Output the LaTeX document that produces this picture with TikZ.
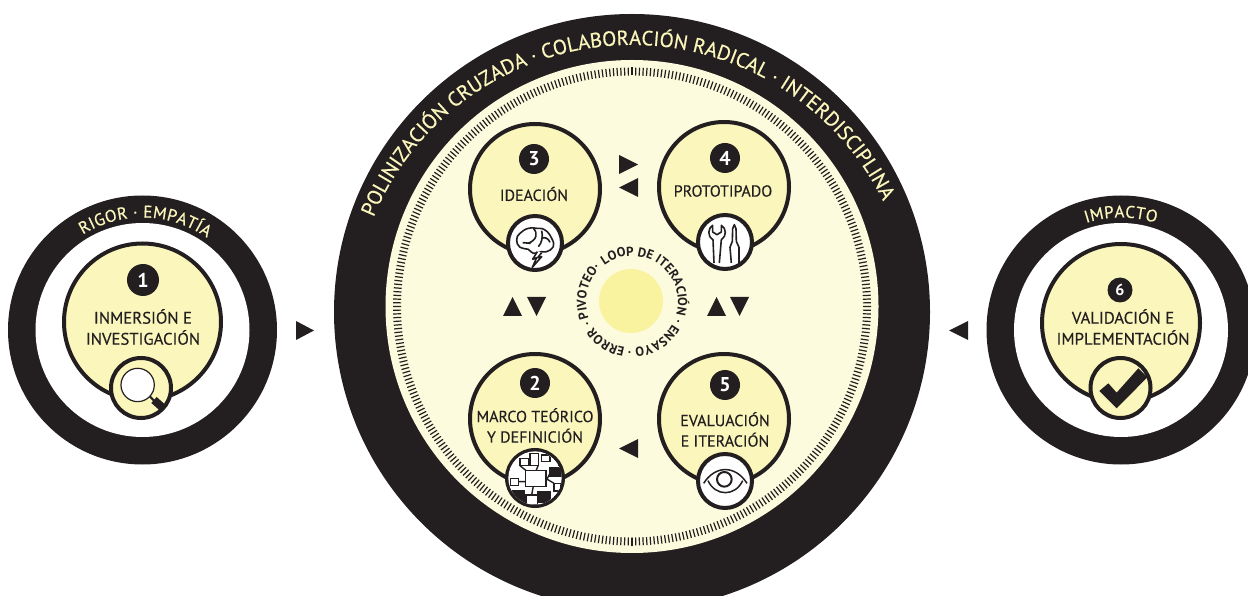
\documentclass[tikz,border=0pt]{standalone}
\usepackage{fontspec}
\setmainfont{PT Sans}
\newfontfamily\medfont[FakeBold=0.25]{PT Sans}
\newfontfamily\thickfont[FakeBold=0.45]{PT Sans}
\usepackage{xcolor}
\usetikzlibrary{decorations.text}
\definecolor{ink}{HTML}{231F20}
\definecolor{pale}{HTML}{FDFBDD}
\definecolor{butter}{HTML}{FBF6BB}
\definecolor{sun}{HTML}{F9F29E}
\newcommand{\bandfont}{\thickfont\fontsize{20.6}{20.6}\selectfont}
\newcommand{\sidefont}{\thickfont\fontsize{17}{17}\selectfont}
\newcommand{\corefont}{\fontsize{13}{13}\selectfont\bfseries}
\tikzset{
  stage/.style={circle,draw=ink,fill=butter,line width=4pt,inner sep=0pt},
  badge/.style={circle,fill=ink,text=white,inner sep=0pt,font=\fontsize{20}{20}\selectfont\bfseries},
  label/.style={align=center,text=ink,inner sep=0pt,font=\medfont\fontsize{16}{20.5}\selectfont},
  widelabel/.style={label,font=\medfont\fontsize{16.7}{21}\selectfont},
  icon/.style={circle,draw=ink,line width=4pt,inner sep=0pt},
  pen/.style={draw=ink,line width=1.6pt,line join=round}
}
\begin{document}
\begin{tikzpicture}[x=1pt,y=1pt]
    \useasboundingbox (0,0) rectangle (1248,595);
    \clip (0,0) rectangle (1248,595);
    \coordinate (hub) at (632,288.5);
    \coordinate (leftc) at (142.5,265);
    \coordinate (rightc) at (1121,265);
    \coordinate (corec) at (632,293);

    \node[circle,fill=ink,minimum size=596pt,inner sep=0pt] (mainband) at (632,283) {};
    \node[circle,fill=pale,minimum size=493pt,inner sep=0pt] (maindisc) at (hub) {};
    \foreach \i in {1,...,400}
      \draw[ink,line width=1.2pt] (hub) ++(\i*0.9:231) -- ++(\i*0.9:8);
    \draw[ink,line width=2.4pt] (hub) ++(-90:231) -- ++(-90:8);
    \path[decorate,decoration={text along path,text align={fit to path},
      text={|\color{butter}\bandfont|POLINIZACIÓN CRUZADA · COLABORACIÓN RADICAL · INTERDISCIPLINA}}]
      (632,270) ++(157.4:280) arc[start angle=157.4,end angle=26.6,radius=280];

    \node[circle,fill=ink,minimum size=269pt,inner sep=0pt] (leftband) at (leftc) {};
    \node[circle,fill=white,minimum size=214pt,inner sep=0pt] (lefthole) at (leftc) {};
    \path[decorate,decoration={text along path,text align={fit to path},
      text={|\color{butter}\sidefont|RIGOR · EMPATÍA}}]
      (leftc) ++(122:112.5) arc[start angle=122,end angle=55,radius=112.5];

    \node[circle,fill=ink,minimum size=269pt,inner sep=0pt] (rightband) at (rightc) {};
    \node[circle,fill=white,minimum size=214pt,inner sep=0pt] (righthole) at (rightc) {};
    \path[decorate,decoration={text along path,text align={fit to path},
      text={|\color{butter}\sidefont|IMPACTO}}]
      (rightc) ++(108:112.5) arc[start angle=108,end angle=72,radius=112.5];

    \node[stage,minimum size=157pt] (stage1) at (142.5,273) {};
    \node[stage,minimum size=130pt] (stage2) at (535,176) {};
    \node[stage,minimum size=130pt] (stage3) at (535,406) {};
    \node[stage,minimum size=130pt] (stage4) at (724,408) {};
    \node[stage,minimum size=130pt] (stage5) at (724,176) {};
    \node[stage,minimum size=158pt] (stage6) at (1121,272) {};

    \node[badge,minimum size=32pt] (num1) at (143,315) {1};
    \node[badge,minimum size=30pt] (num2) at (535,212) {2};
    \node[badge,minimum size=30pt] (num3) at (534,436) {3};
    \node[badge,minimum size=30pt] (num4) at (725,437) {4};
    \node[badge,minimum size=30pt] (num5) at (725,210) {5};
    \node[badge,minimum size=25pt,font=\fontsize{16}{16}\selectfont\bfseries] (num6) at (1120,305) {6};

    \node[widelabel] (text1) at (143,268) {INMERSIÓN E\\INVESTIGACIÓN};
    \node[label] (text2) at (535,169.5) {MARCO TEÓRICO\\Y DEFINICIÓN};
    \node[label] (text3) at (534,401) {IDEACIÓN};
    \node[label] (text4) at (723,404) {PROTOTIPADO};
    \node[label] (text5) at (725,165.5) {EVALUACIÓN\\E ITERACIÓN};
    \node[widelabel] (text6) at (1123,268) {VALIDACIÓN E\\IMPLEMENTACIÓN};

    \node[icon,fill=butter,minimum size=60pt] (icon1) at (141,207) {};
    \node[icon,fill=ink,minimum size=56pt] (icon2) at (535,117) {};
    \node[icon,fill=white,minimum size=54pt] (icon3) at (535,352) {};
    \node[icon,fill=white,minimum size=54pt] (icon4) at (725,353) {};
    \node[icon,fill=white,minimum size=54pt] (icon5) at (725,114) {};
    \node[icon,fill=butter,minimum size=60pt] (icon6) at (1120.5,207) {};

    \begin{scope}[shift={(0,405)},x=0.3333pt,y=-0.3333pt]
      \draw[ink,line width=1.2pt,fill=white] (413,585) circle (50);
      \draw[ink,line width=2pt] (450,620) -- (465,635);
      \draw[ink,line width=8pt] (462,630) -- (490,655);
    \end{scope}

    \begin{scope}[shift={(500,150)},x=0.3333pt,y=-0.3333pt]
      \clip (105,99) circle (80);
      \fill[white] (105,99) circle (80);
      \draw[ink,line width=1.4pt] (80,78) -- (60,62) (115,60) -- (108,78) (137,100) -- (162,115) (78,110) -- (55,110) (100,123) -- (95,150) (130,123) -- (150,85);
      \fill[white,draw=ink,line width=1.2pt] (90,25) rectangle (116,62);
      \fill[white,draw=ink,line width=1.2pt] (125,30) rectangle (150,50);
      \fill[white,draw=ink,line width=1.2pt] (60,40) rectangle (85,62);
      \fill[white,draw=ink,line width=1.2pt] (32,100) rectangle (55,122);
      \fill[white,draw=ink,line width=1.2pt] (162,115) rectangle (182,138);
      \fill[ink] (148,66) rectangle (190,96);
      \fill[ink] (112,138) rectangle (152,174);
      \fill[ink] (35,135) rectangle (75,180);
      \fill[white,draw=ink,line width=1.2pt] (78,150) rectangle (112,180);
      \fill[white,draw=ink,line width=1.6pt] (76,77) rectangle (138,124);
    \end{scope}

    \begin{scope}[shift={(500,385)},x=0.3333pt,y=-0.3333pt]
      \draw[pen] plot[smooth cycle,tension=0.8] coordinates {(50,90) (60,70) (85,55) (110,55) (135,60) (155,85) (160,110) (140,125) (125,125) (100,130) (85,118) (60,112)};
      \draw[pen] (100,55) .. controls (115,70) and (110,90) .. (85,100);
      \draw[pen] (125,85) .. controls (135,80) and (145,85) .. (150,97);
      \draw[pen] (68,98) -- (92,100);
      \draw[pen] (125,62) .. controls (130,80) and (125,100) .. (115,110);
      \draw[pen,fill=white] (112,125) -- (98,148) -- (110,143) -- (97,172) -- (125,140) -- (113,143) -- (125,128);
    \end{scope}

    \begin{scope}[shift={(692,387)},x=0.3333pt,y=-0.3333pt]
      \draw[pen] (66,165) -- (63,95) .. controls (45,85) and (48,60) .. (62,52) -- (62,72) -- (75,80) -- (88,72) -- (88,52) .. controls (103,60) and (105,85) .. (88,95) -- (82,165);
      \draw[pen] (118,165) -- (114,118) -- (121,100) -- (122,62) -- (127,50) -- (132,62) -- (133,100) -- (141,118) -- (141,165);
    \end{scope}

    \begin{scope}[shift={(692,145)},x=0.3333pt,y=-0.3333pt]
      \draw[pen,line width=1.5pt] (35,100) .. controls (70,45) and (130,45) .. (165,100);
      \draw[pen,line width=1.5pt] (48,92) .. controls (70,140) and (130,140) .. (152,92);
      \draw[ink,line width=2pt] (97,88) circle (22);
    \end{scope}

    \begin{scope}[shift={(940,405)},x=0.3333pt,y=-0.3333pt]
      \fill[ink] (478,603) -- (505,580) -- (530,608) -- (595,535) -- (622,562) -- (530,655) -- cycle;
    \end{scope}

    \node[circle,fill=sun,minimum size=64pt,inner sep=0pt] (core) at (631,294) {};
    \path[decorate,decoration={text along path,text align={fit to path},
      text={|\color{ink}\corefont|LOOP DE ITERACIÓN · ENSAYO · ERROR · PIVOTEO·}}]
      (corec) ++(127:46) arc[start angle=127,end angle=-226,radius=46];

    \fill[ink] (296,274) -- (296,255) -- (314,264.5) -- cycle;
    \fill[ink] (968,274) -- (968,255) -- (949,264.5) -- cycle;
    \fill[ink] (619,440) -- (619,421) -- (638,430.5) -- cycle;
    \fill[ink] (638,417) -- (638,398) -- (619,407.5) -- cycle;
    \fill[ink] (638,156) -- (638,137) -- (619,146.5) -- cycle;
    \fill[ink] (503,279) -- (522,279) -- (512.5,298) -- cycle;
    \fill[ink] (527,298) -- (546,298) -- (536.5,279) -- cycle;
    \fill[ink] (707,279) -- (726,279) -- (716.5,298) -- cycle;
    \fill[ink] (730,298) -- (749,298) -- (739.5,279) -- cycle;
\end{tikzpicture}
\end{document}
